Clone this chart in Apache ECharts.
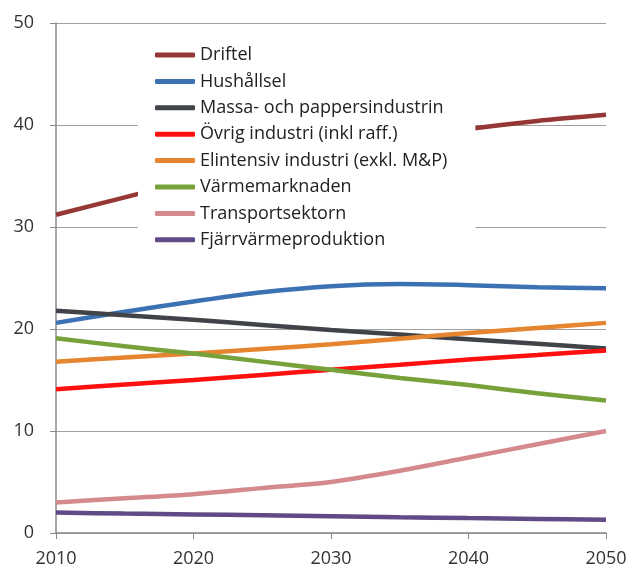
<!DOCTYPE html>
<html>
<head>
<meta charset="utf-8">
<script src="https://cdn.jsdelivr.net/npm/echarts@6/dist/echarts.min.js"></script>
<style>
  html, body { margin: 0; padding: 0; background: #fff; }
  #chart { width: 644px; height: 569px; }
</style>
</head>
<body>
<div id="chart"></div>
<script>
// years on the x axis
var years = [2010, 2015, 2020, 2025, 2030, 2035, 2040, 2045, 2050]

var driftel = [31.2, 32.9, 34.6, 36.1, 37.4, 38.6, 39.6, 40.4, 41.0]
var hushallsel = [20.6, 21.7, 22.7, 23.6, 24.2, 24.4, 24.3, 24.1, 24.0]
var massa = [21.8, 21.35, 20.9, 20.4, 19.9, 19.45, 19.0, 18.55, 18.1]
var ovrig = [14.1, 14.55, 15.0, 15.5, 16.0, 16.5, 17.0, 17.45, 17.9]
var elintensiv = [16.8, 17.2, 17.6, 18.05, 18.5, 19.05, 19.6, 20.1, 20.6]
var varmemarknaden = [19.1, 18.3, 17.6, 16.8, 16.0, 15.2, 14.5, 13.7, 13.0]
var transport = [3.0, 3.4, 3.8, 4.4, 5.0, 6.1, 7.4, 8.7, 10.0]
var fjarrvarme = [2.0, 1.9, 1.82, 1.74, 1.65, 1.55, 1.46, 1.38, 1.3]

var seriesNames = [
  'Driftel',
  'Hushållsel',
  'Massa- och pappersindustrin',
  'Övrig industri (inkl raff.)',
  'Elintensiv industri (exkl. M&P)',
  'Värmemarknaden',
  'Transportsektorn',
  'Fjärrvärmeproduktion'
]
var seriesData = [driftel, hushallsel, massa, ovrig, elintensiv, varmemarknaden, transport, fjarrvarme]
var colors = ['#953735', '#3c72b4', '#404448', '#ff1010', '#e5852f', '#77a13a', '#d4898c', '#614a85']

function pairs (values) {
  return years.map(function (y, i) { return [y, values[i]] })
}

var myChart = echarts.init(document.getElementById('chart'))

var option = {
  animation: false,
  textStyle: {fontFamily: 'Open Sans'},
  grid: {left: 56, right: 38, top: 23, bottom: 36, outerBoundsMode: 'none'},
  legend: {
    orient: 'vertical',
    left: 138,
    top: 33,
    backgroundColor: '#fff',
    padding: [12, 28, 12, 17],
    icon: 'roundRect',
    itemWidth: 40,
    itemHeight: 5,
    itemGap: 6.4,
    textStyle: {fontSize: 18, color: '#222', fontFamily: 'Open Sans', lineHeight: 20},
    data: seriesNames
  },
  xAxis: {
    type: 'value',
    min: 2010,
    max: 2050,
    interval: 10,
    axisLine: {lineStyle: {color: '#8a8a8a', width: 1.5}},
    axisTick: {show: true, length: 6, lineStyle: {color: '#8a8a8a'}},
    axisLabel: {
      fontSize: 18,
      color: '#333',
      margin: 17,
      formatter: function (v) { return String(v) }
    },
    splitLine: {show: false}
  },
  yAxis: {
    type: 'value',
    min: 0,
    max: 50,
    interval: 10,
    axisLine: {show: true, lineStyle: {color: '#8a8a8a', width: 1.5}},
    axisTick: {show: true, length: 6, lineStyle: {color: '#8a8a8a'}},
    axisLabel: {fontSize: 18, color: '#333', margin: 22},
    splitLine: {lineStyle: {color: '#a0a0a0', width: 1.2}}
  },
  series: seriesNames.map(function (name, i) {
    return {
      name: name,
      type: 'line',
      smooth: 0.3,
      symbol: 'none',
      data: pairs(seriesData[i]),
      itemStyle: {color: colors[i]},
      lineStyle: {color: colors[i], width: 4.5}
    }
  })
}

myChart.setOption(option)
</script>
</body>
</html>
